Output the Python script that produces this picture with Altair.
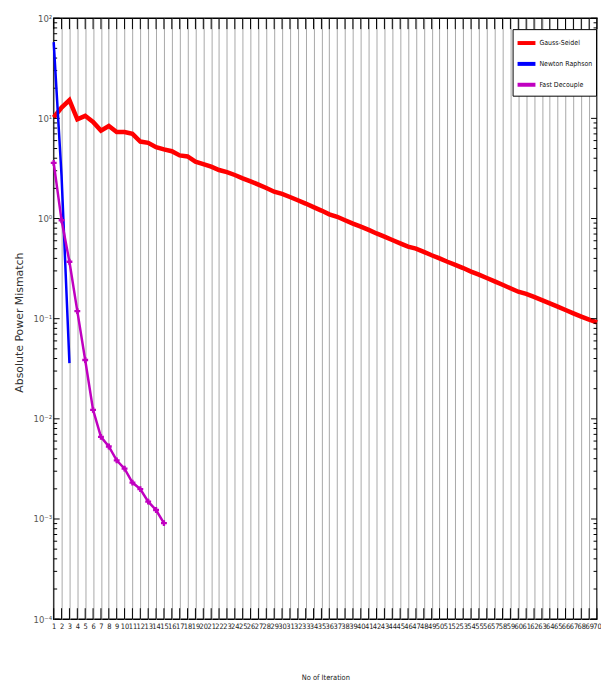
import altair as alt
import pandas as pd

W, H = 547, 605

methods = ["Gauss-Seidel", "Newton Raphson", "Fast Decouple"]
colors = ["#ff0000", "#0000ff", "#c000c0"]

gs_iter = list(range(1, 71))
gauss_seidel = [10.2, 12.8, 15.2, 9.8, 10.6, 9.2, 7.55, 8.4, 7.3, 7.3,
                7.0, 5.87, 5.7, 5.15, 4.9, 4.7, 4.27, 4.17, 3.70, 3.50,
                3.30, 3.05, 2.90, 2.72, 2.52, 2.35, 2.18, 2.02, 1.85, 1.76,
                1.64, 1.52, 1.41, 1.30, 1.20, 1.10, 1.04, 0.96, 0.89, 0.83,
                0.77, 0.71, 0.66, 0.61, 0.565, 0.525, 0.50, 0.465, 0.43, 0.40,
                0.37, 0.345, 0.32, 0.295, 0.275, 0.255, 0.236, 0.218, 0.201, 0.186,
                0.177, 0.165, 0.153, 0.142, 0.132, 0.122, 0.113, 0.105, 0.098, 0.092]

nr_iter = [1, 2, 3]
newton_raphson = [57.8, 2.65, 0.036]

fd_iter = list(range(1, 16))
fast_decouple = [3.59, 0.96, 0.37, 0.119, 0.0387, 0.0123, 0.0066, 0.0053,
                 0.00385, 0.00318, 0.00231, 0.00199, 0.00149, 0.00123, 0.00091]

x_ticks = list(range(1, 71))
y_major = [1e-4, 1e-3, 1e-2, 1e-1, 1e0, 1e1, 1e2]
y_minor = [m * 10.0 ** k for k in range(-4, 2) for m in range(2, 10)]

df = pd.concat([
    pd.DataFrame({"it": gs_iter, "v": gauss_seidel, "method": methods[0]}),
    pd.DataFrame({"it": nr_iter, "v": newton_raphson, "method": methods[1]}),
    pd.DataFrame({"it": fd_iter, "v": fast_decouple, "method": methods[2]}),
])
xt = pd.DataFrame({"it": x_ticks})
ymaj = pd.DataFrame({"v": y_major})
ymin = pd.DataFrame({"v": y_minor})

NARROW = "DejaVu Sans Condensed, Liberation Sans, sans-serif"

xscale = alt.Scale(domain=[1, 70], nice=False, zero=False)
yscale = alt.Scale(type="log", domain=[1e-4, 1e2], nice=False)

sup = ("datum.value >= 99 ? '10²' : datum.value >= 9 ? '10¹' : datum.value >= 0.9 ? '10⁰' : "
       "datum.value >= 0.09 ? '10⁻¹' : datum.value >= 0.009 ? '10⁻²' : "
       "datum.value >= 0.0009 ? '10⁻³' : '10⁻⁴'")

X = alt.X("it:Q", scale=xscale, axis=alt.Axis(
    values=x_ticks, title="No of Iteration", grid=True, gridColor="#a8a8a8", gridWidth=1,
    ticks=False, domain=False, labelFont=NARROW, labelFontSize=7.5, labelColor="#222",
    labelPadding=3, labelOverlap=False, labelFlush=False, labelBound=False,
    titleFont=NARROW, titleFontSize=7.5, titleFontWeight="normal", titleColor="#222",
    titleY=61, titleBaseline="alphabetic"))
Y = alt.Y("v:Q", scale=yscale, axis=alt.Axis(
    values=y_major, labelExpr=sup, title="Absolute Power Mismatch", grid=False,
    ticks=False, domain=False, labelFont=NARROW, labelFontSize=9.5, labelColor="#555",
    labelPadding=2, labelOverlap=False, labelFlush=False,
    titleFont="DejaVu Sans", titleFontSize=11, titleFontWeight="normal", titleColor="#333",
    titleAngle=270, titleX=-34, titleY=306, titleBaseline="middle", titleAlign="center"))

base = alt.Chart(df)
lines_gs = base.transform_filter(alt.datum.method == methods[0]).mark_line(strokeWidth=4.5).encode(
    x=X, y=Y,
    color=alt.Color("method:N", scale=alt.Scale(domain=methods, range=colors),
                    legend=alt.Legend(title=None, orient="none", legendX=462, legendY=11,
                                      symbolType="stroke", symbolStrokeWidth=4, symbolSize=324,
                                      labelFont=NARROW, labelFontSize=7, labelColor="#111",
                                      strokeColor="black", fillColor="white", padding=3,
                                      rowPadding=2, labelOffset=2)))
lines_nr = base.transform_filter(alt.datum.method == methods[1]).mark_line(strokeWidth=2.5).encode(
    x=X, y=Y, color=alt.Color("method:N"))
lines_fd = base.transform_filter(alt.datum.method == methods[2]).mark_line(strokeWidth=2.5).encode(
    x=X, y=Y, color=alt.Color("method:N"))
pts_fd = base.transform_filter(alt.datum.method == methods[2]).mark_point(
    shape="cross", filled=True, size=35, opacity=1).encode(x=X, y=Y, color=alt.value(colors[2]))

tick_top = alt.Chart(xt).mark_rule(color="black", strokeWidth=1).encode(
    x=X, y=alt.value(0), y2=alt.value(11))
tick_bot = alt.Chart(xt).mark_rule(color="black", strokeWidth=1).encode(
    x=X, y=alt.value(H - 11), y2=alt.value(H))
tick_lmaj = alt.Chart(ymaj).mark_rule(color="black", strokeWidth=1).encode(
    y=Y, x=alt.value(0), x2=alt.value(6))
tick_lmin = alt.Chart(ymin).mark_rule(color="black", strokeWidth=1).encode(
    y=Y, x=alt.value(0), x2=alt.value(3.5))
tick_rmaj = alt.Chart(ymaj).mark_rule(color="black", strokeWidth=1).encode(
    y=Y, x=alt.value(W - 6), x2=alt.value(W))
tick_rmin = alt.Chart(ymin).mark_rule(color="black", strokeWidth=1).encode(
    y=Y, x=alt.value(W - 3.5), x2=alt.value(W))

chart = alt.layer(
    lines_gs, tick_top, tick_bot, tick_lmaj, tick_lmin, tick_rmaj, tick_rmin,
    lines_nr, lines_fd, pts_fd
).properties(
    width=W, height=H,
    autosize=alt.AutoSizeParams(type="none"),
    padding={"left": 46, "top": 8, "right": 4, "bottom": 62},
    background="white",
).configure_view(stroke="black", strokeWidth=1.5)

chart.save("out.html", embed_options={"renderer": "svg", "actions": False})
